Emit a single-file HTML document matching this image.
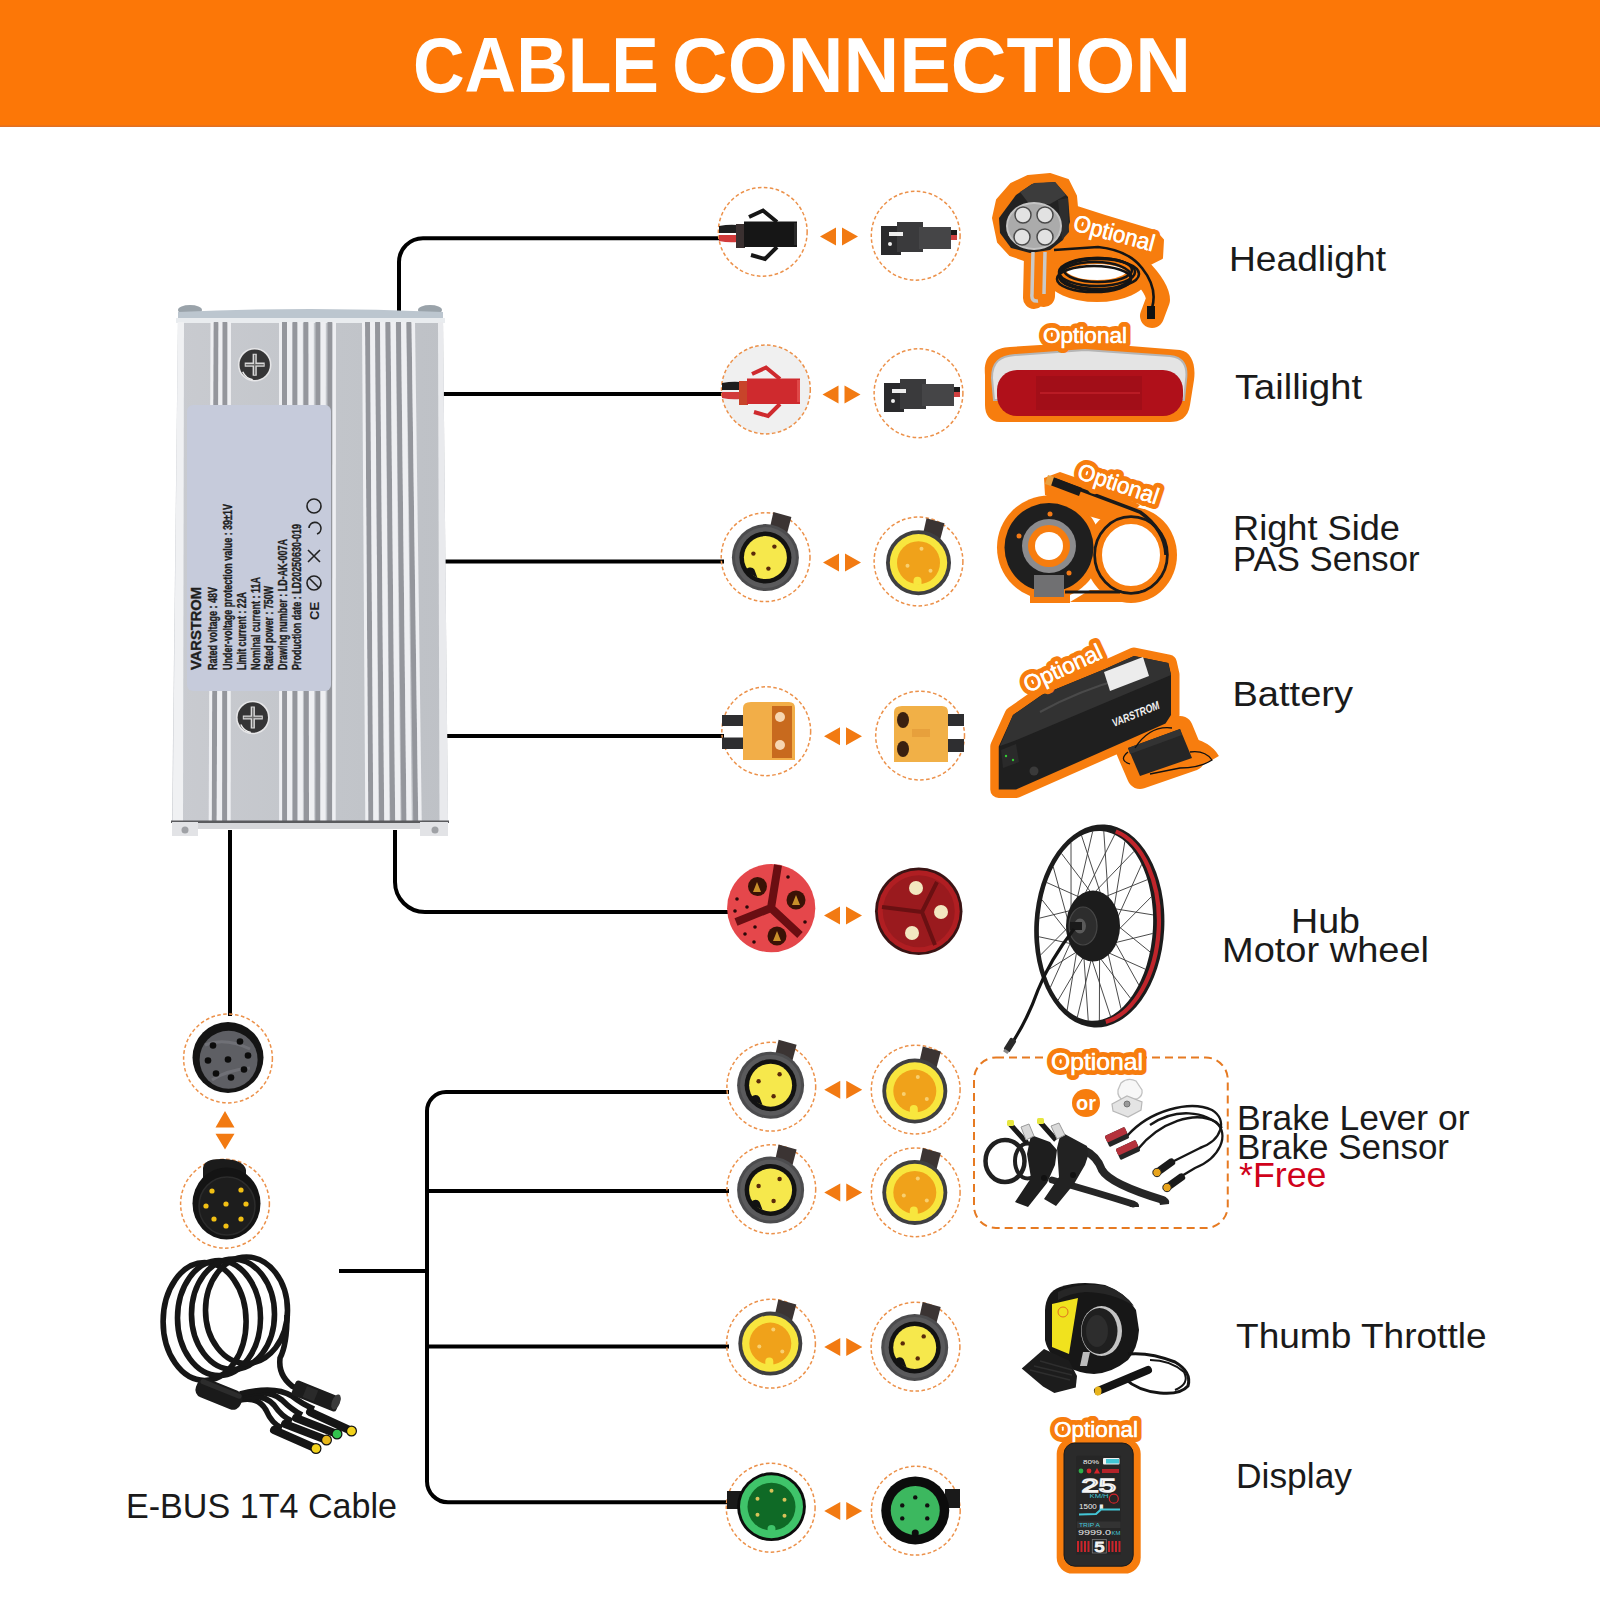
<!DOCTYPE html>
<html><head><meta charset="utf-8"><title>Cable Connection</title>
<style>
html,body{margin:0;padding:0;background:#fff;}
body{width:1600px;height:1600px;overflow:hidden;position:relative;font-family:"Liberation Sans",sans-serif;}
svg{position:absolute;left:0;top:0;display:block;}
text{font-family:"Liberation Sans",sans-serif;}
</style></head><body>
<svg width="1600" height="1600" viewBox="0 0 1600 1600">
<rect x="0" y="0" width="1600" height="127" fill="#FC7707"/><rect x="0" y="125.5" width="1600" height="1.5" fill="#e07024"/>
<text x="413" y="91.5" font-size="77.5" font-weight="bold" fill="#fff" textLength="246" lengthAdjust="spacingAndGlyphs">CABLE</text>
<text x="672" y="91.5" font-size="77.5" font-weight="bold" fill="#fff" textLength="519" lengthAdjust="spacingAndGlyphs">CONNECTION</text>
<g fill="none" stroke="#000" stroke-width="4"><path d="M399,330 V262 A24,24 0 0,1 423,238.2 H722"/><path d="M440,394 H724"/><path d="M445,561.5 H724"/><path d="M445,736 H724"/><path d="M395,830 V882 A30,30 0 0,0 425,912 H730"/><path d="M230,830 V1016"/><path d="M339,1271 H427"/><path d="M729,1092 H446 A19,19 0 0,0 427,1111 V1481 A21,21 0 0,0 448,1502.2 H729"/><path d="M427,1191 H729"/><path d="M427,1346.5 H729"/></g>
<defs>
<linearGradient id="alu" x1="0" y1="0" x2="1" y2="0">
<stop offset="0" stop-color="#c9cbd0"/><stop offset="0.5" stop-color="#c3c6cb"/><stop offset="1" stop-color="#bec1c6"/>
</linearGradient>
<radialGradient id="screw" cx="0.45" cy="0.4" r="0.6">
<stop offset="0" stop-color="#e8e8e8"/><stop offset="0.6" stop-color="#a8a8a8"/><stop offset="1" stop-color="#5a5a5a"/>
</radialGradient>
</defs>
<ellipse cx="190" cy="310" rx="12" ry="5" fill="#9aa3aa"/><ellipse cx="430" cy="310" rx="12" ry="5" fill="#9aa3aa"/>
<path d="M178,316 L443,316 L448,822 L172,822 Z" fill="url(#alu)"/>
<path d="M178,312 Q310,306 443,312 L443,322 L178,322 Z" fill="#bcc6cf"/>
<path d="M176,318 L445,318 L445,323 L176,323 Z" fill="#e9ecef"/>
<path d="M213.5,322 L218.5,322 L216.7,822 L211.7,822 Z" fill="#94969c"/><path d="M218.5,322 L223.8,322 L222.0,822 L216.7,822 Z" fill="#eeeff2"/><path d="M222.5,322 L227.5,322 L227.2,822 L222.2,822 Z" fill="#94969c"/><path d="M227.5,322 L231.0,322 L230.7,822 L227.2,822 Z" fill="#eeeff2"/><path d="M282.0,322 L287.0,322 L287.1,822 L282.1,822 Z" fill="#94969c"/><path d="M287.0,322 L292.3,322 L292.40000000000003,822 L287.1,822 Z" fill="#eeeff2"/><path d="M292.5,322 L297.5,322 L297.6,822 L292.6,822 Z" fill="#94969c"/><path d="M297.5,322 L302.8,322 L302.90000000000003,822 L297.6,822 Z" fill="#eeeff2"/><path d="M303.5,322 L308.5,322 L309.0,822 L304.0,822 Z" fill="#94969c"/><path d="M308.5,322 L313.8,322 L314.3,822 L309.0,822 Z" fill="#eeeff2"/><path d="M315.5,322 L320.5,322 L320.4,822 L315.4,822 Z" fill="#94969c"/><path d="M320.5,322 L325.8,322 L325.7,822 L320.4,822 Z" fill="#eeeff2"/><path d="M327.5,322 L332.5,322 L332.2,822 L327.2,822 Z" fill="#94969c"/><path d="M332.5,322 L336.0,322 L335.7,822 L332.2,822 Z" fill="#eeeff2"/><path d="M365.0,322 L370.0,322 L373.3,822 L368.3,822 Z" fill="#94969c"/><path d="M370.0,322 L375.3,322 L378.6,822 L373.3,822 Z" fill="#eeeff2"/><path d="M375.0,322 L380.0,322 L384.25,822 L379.25,822 Z" fill="#94969c"/><path d="M380.0,322 L385.3,322 L389.55,822 L384.25,822 Z" fill="#eeeff2"/><path d="M385.5,322 L390.5,322 L395.2,822 L390.2,822 Z" fill="#94969c"/><path d="M390.5,322 L395.8,322 L400.5,822 L395.2,822 Z" fill="#eeeff2"/><path d="M396.0,322 L401.0,322 L406.5,822 L401.5,822 Z" fill="#94969c"/><path d="M401.0,322 L406.3,322 L411.8,822 L406.5,822 Z" fill="#eeeff2"/><path d="M406.5,322 L411.5,322 L418.25,822 L413.25,822 Z" fill="#94969c"/><path d="M411.5,322 L415.0,322 L421.75,822 L418.25,822 Z" fill="#eeeff2"/><path d="M210.5,322 L213.5,322 L211.7,822 L208.7,822 Z" fill="#eeeff2"/><path d="M279.0,322 L282.0,322 L282.1,822 L279.1,822 Z" fill="#eeeff2"/><path d="M362.0,322 L365.0,322 L368.3,822 L365.3,822 Z" fill="#eeeff2"/>
<path d="M178,322 L184,322 L183,822 L172.6,822 Z" fill="#f0f1f3"/>
<path d="M438,322 L443,322 L448,822 L439.5,822 Z" fill="#e9eaed"/>
<rect x="171" y="820.5" width="278" height="2.5" fill="#5a5b5e"/>
<rect x="172" y="823" width="276" height="6" fill="#d6d7da"/>
<path d="M172,822 h26 v14 h-26 z" fill="#e2e3e6"/><path d="M420,822 h28 v14 h-28 z" fill="#e2e3e6"/>
<circle cx="185" cy="830" r="3.5" fill="#9fa1a5"/><circle cx="435" cy="830" r="3.5" fill="#9fa1a5"/>
<rect x="187" y="405" width="144" height="286" rx="6" fill="#c6cbdb"/>
<text transform="translate(200.8,670) rotate(-90)" font-size="14.3" font-weight="bold" fill="#1e1e1e" stroke="#1e1e1e" stroke-width="0.35" textLength="83" lengthAdjust="spacingAndGlyphs">VARSTROM</text>
<text transform="translate(217.3,670) rotate(-90)" font-size="12.3" font-weight="bold" fill="#1e1e1e" stroke="#1e1e1e" stroke-width="0.35" textLength="83" lengthAdjust="spacingAndGlyphs">Rated voltage : 48V</text>
<text transform="translate(231.8,670) rotate(-90)" font-size="12.3" font-weight="bold" fill="#1e1e1e" stroke="#1e1e1e" stroke-width="0.35" textLength="166" lengthAdjust="spacingAndGlyphs">Under-voltage protection value : 39±1V</text>
<text transform="translate(245.8,670) rotate(-90)" font-size="12.3" font-weight="bold" fill="#1e1e1e" stroke="#1e1e1e" stroke-width="0.35" textLength="78" lengthAdjust="spacingAndGlyphs">Limit current : 22A</text>
<text transform="translate(259.6,670) rotate(-90)" font-size="12.3" font-weight="bold" fill="#1e1e1e" stroke="#1e1e1e" stroke-width="0.35" textLength="93" lengthAdjust="spacingAndGlyphs">Nominal current : 11A</text>
<text transform="translate(273.3,670) rotate(-90)" font-size="12.3" font-weight="bold" fill="#1e1e1e" stroke="#1e1e1e" stroke-width="0.35" textLength="84" lengthAdjust="spacingAndGlyphs">Rated power : 750W</text>
<text transform="translate(287.3,670) rotate(-90)" font-size="12.3" font-weight="bold" fill="#1e1e1e" stroke="#1e1e1e" stroke-width="0.35" textLength="131" lengthAdjust="spacingAndGlyphs">Drawing number : LD-AK-007A</text>
<text transform="translate(301.3,670) rotate(-90)" font-size="12.3" font-weight="bold" fill="#1e1e1e" stroke="#1e1e1e" stroke-width="0.35" textLength="146" lengthAdjust="spacingAndGlyphs">Production date : LD20250630-019</text>
<g fill="none" stroke="#222" stroke-width="1.6"><circle cx="314" cy="506" r="7"/><circle cx="314" cy="583" r="7"/><path d="M309,578 L319,588"/><path d="M308,550 L320,562 M320,550 L308,562"/><path d="M309,528 a6,6 0 1,1 8,6"/></g>
<text transform="translate(319,620) rotate(-90)" font-size="13" font-weight="bold" fill="#222">CE</text>
<circle cx="254.7" cy="364.7" r="16.8" fill="#e6e6e8"/><circle cx="254.7" cy="364.7" r="15.2" fill="#353536"/><path d="M244.7,364.7 h20 M254.7,353.7 v22" stroke="#d8d8d8" stroke-width="4.2"/><path d="M245.7,364.7 h18 M254.7,354.7 v20" stroke="#6a6a6a" stroke-width="1.4"/><path d="M242.7,371.7 a14,14 0 0,0 10,8" stroke="#f0f0f0" stroke-width="1.5" fill="none"/>
<circle cx="252.8" cy="717.5" r="16.8" fill="#e6e6e8"/><circle cx="252.8" cy="717.5" r="15.2" fill="#353536"/><path d="M242.8,717.5 h20 M252.8,706.5 v22" stroke="#d8d8d8" stroke-width="4.2"/><path d="M243.8,717.5 h18 M252.8,707.5 v20" stroke="#6a6a6a" stroke-width="1.4"/><path d="M240.8,724.5 a14,14 0 0,0 10,8" stroke="#f0f0f0" stroke-width="1.5" fill="none"/>
<circle cx="762.75" cy="231.8" r="44.4" fill="none" stroke="#EC914A" stroke-width="1.5" stroke-dasharray="3.6 2.4"/>
<circle cx="915.7" cy="235.75" r="44.4" fill="none" stroke="#EC914A" stroke-width="1.5" stroke-dasharray="3.6 2.4"/>
<path d="M719,226 q10,-2 19,-1 v8 h-19 z" fill="#1e1e1e"/><path d="M719,235 h19 v7 q-10,1 -19,-1 z" fill="#d23a3a"/><path d="M736,224 h9 v24 h-9 z" fill="#3a3030"/><path d="M744,221.5 h53 v25.5 h-53 z" fill="#161616"/><path d="M794,223 h3 v22 h-3 z" fill="#2a2a2a"/><path d="M749,217 L763,210.5 L777,222 M751,255 L765,259 L777,247" fill="none" stroke="#161616" stroke-width="4" stroke-linejoin="miter"/>
<path d="M943,230 h14 v5 h-14 z" fill="#1a1a1a"/><path d="M943,235 h14 v5 h-14 z" fill="#d04040"/><path d="M881,226 h20 v29 h-20 z" fill="#2a2a2c"/><path d="M897,222 h26 v30 h-26 z" fill="#3a3a3c"/><path d="M919,227 h32 v22 h-32 z" fill="#454547"/><path d="M889,232 h14 v4 h-14 z" fill="#eee"/><circle cx="890" cy="244" r="2" fill="#eee"/>
<path d="M820,236.5 L836,227.5 L836,245.5 Z M842,227.5 L858,236.5 L842,245.5 Z" fill="#F27A12"/>
<circle cx="765.9" cy="389.5" r="44.4" fill="#f0f0f0" stroke="#EC914A" stroke-width="1.5" stroke-dasharray="3.6 2.4"/>
<circle cx="918.5" cy="393.25" r="44.4" fill="none" stroke="#EC914A" stroke-width="1.5" stroke-dasharray="3.6 2.4"/>
<path d="M722,383 q10,-2 19,-1 v8 h-19 z" fill="#1e1e1e"/><path d="M722,392 h19 v7 q-10,1 -19,-1 z" fill="#d23a3a"/><path d="M739,381 h9 v24 h-9 z" fill="#c8442a"/><path d="M747,378.5 h53 v25.5 h-53 z" fill="#cf2a2e"/><path d="M797,380 h3 v22 h-3 z" fill="#e04848"/><path d="M752,374 L766,367.5 L780,379 M754,412 L768,416 L780,404" fill="none" stroke="#cf2a2e" stroke-width="4" stroke-linejoin="miter"/>
<path d="M946,387 h14 v5 h-14 z" fill="#1a1a1a"/><path d="M946,392 h14 v5 h-14 z" fill="#d04040"/><path d="M884,383 h20 v29 h-20 z" fill="#2a2a2c"/><path d="M900,379 h26 v30 h-26 z" fill="#3a3a3c"/><path d="M922,384 h32 v22 h-32 z" fill="#454547"/><path d="M892,389 h14 v4 h-14 z" fill="#eee"/><circle cx="893" cy="401" r="2" fill="#eee"/>
<path d="M822.5,394.5 L838.5,385.5 L838.5,403.5 Z M844.5,385.5 L860.5,394.5 L844.5,403.5 Z" fill="#F27A12"/>
<circle cx="765.6" cy="557.2" r="44.4" fill="none" stroke="#EC914A" stroke-width="1.5" stroke-dasharray="3.6 2.4"/>
<circle cx="918.5" cy="561.5" r="44.4" fill="none" stroke="#EC914A" stroke-width="1.5" stroke-dasharray="3.6 2.4"/>
<path d="M769.4,530.1 L773.4,512.1 L791.4,517.1 L786.4,536.1 Z" fill="#3b3433"/>
<circle cx="765.4" cy="557.6" r="33.5" fill="#4c4c4e"/><circle cx="765.4" cy="557.6" r="30.5" fill="#5a5a5c"/><circle cx="765.4" cy="557.6" r="26.0" fill="#121212"/><circle cx="765.4" cy="557.6" r="21.5" fill="#F6E84C"/><circle cx="753.4" cy="553.6" r="2.2" fill="#5a2a0a"/><circle cx="774.4" cy="546.6" r="2.2" fill="#5a2a0a"/><circle cx="768.4" cy="568.6" r="2.2" fill="#5a2a0a"/><path d="M745.4,571.6 a5,5 0 0,1 9,-2 L757.4,577.6 Z" fill="#121212"/>
<path d="M922.5,536.2 L926.5,518.2 L944.5,523.2 L939.5,542.2 Z" fill="#3b3433"/>
<circle cx="918.5" cy="562.7" r="32.5" fill="#3f3f41"/><circle cx="918.5" cy="562.7" r="28.7" fill="#F8E63E"/><circle cx="918.5" cy="562.7" r="21.5" fill="#F0A21A"/><circle cx="921.5" cy="548.7" r="2" fill="#f8d070"/><circle cx="907.5" cy="565.7" r="2" fill="#f8d070"/><circle cx="930.5" cy="570.7" r="2" fill="#f8d070"/><path d="M913.5,584.7 v-4 a4,4 0 0,1 8,0 v4 z" fill="#F8E63E"/>
<path d="M823,562.4 L839,553.4 L839,571.4 Z M845,553.4 L861,562.4 L845,571.4 Z" fill="#F27A12"/>
<circle cx="766.25" cy="731.25" r="44.4" fill="none" stroke="#EC914A" stroke-width="1.5" stroke-dasharray="3.6 2.4"/>
<circle cx="920.1" cy="735.6" r="44.4" fill="none" stroke="#EC914A" stroke-width="1.5" stroke-dasharray="3.6 2.4"/>
<path d="M722,715 h22 v11 h-22 z M722,737.5 h22 v11.5 h-22 z" fill="#2e2e30"/><path d="M743,708 q0,-6 8,-6 h38 q6,0 6,6 v52 h-52 z" fill="#F2AE48"/><path d="M772,706 h20 v52 h-20 z" fill="#C86A1E"/><circle cx="780" cy="717" r="5" fill="#f7d6b0"/><circle cx="780" cy="745" r="5" fill="#f7d6b0"/>
<path d="M946,714 h18 v12 h-18 z M946,739 h18 v13 h-18 z" fill="#2e2e30"/><path d="M894,712 q0,-6 8,-6 h40 q6,0 6,6 v50 h-54 z" fill="#F1B047"/><ellipse cx="903" cy="720" rx="6" ry="8" fill="#3a2010"/><ellipse cx="903" cy="749" rx="6" ry="8" fill="#3a2010"/><path d="M912,729 h18 v8 h-18 z" fill="#e7a03c"/>
<path d="M824,736.2 L840,727.2 L840,745.2 Z M846,727.2 L862,736.2 L846,745.2 Z" fill="#F27A12"/>
<circle cx="771.2" cy="908.2" r="44.1" fill="#E5474B"/><path d="M771,908 L778,865 M771,908 L736,922 M771,908 L800,935" stroke="#6a0e12" stroke-width="8" fill="none"/><circle cx="757.5" cy="886.5" r="9.5" fill="#3a1206"/><circle cx="796" cy="900" r="9.5" fill="#3a1206"/><circle cx="777" cy="936" r="9.5" fill="#3a1206"/><path d="M753,892 l4,-10 l4,10 z M792,905 l4,-10 l4,10 z M773,941 l4,-10 l4,10 z" fill="#c8902a"/><g fill="#2a0808"><circle cx="737" cy="899" r="1.8"/><circle cx="747" cy="907" r="1.8"/><circle cx="735" cy="911" r="1.8"/><circle cx="788" cy="877" r="1.8"/><circle cx="805" cy="922" r="1.8"/><circle cx="755" cy="927" r="1.8"/><circle cx="745" cy="934" r="1.8"/><circle cx="754" cy="942" r="1.8"/></g>
<circle cx="918.75" cy="911.25" r="43.75" fill="#3a1414"/><circle cx="918.75" cy="911.25" r="41" fill="#B01E22"/><circle cx="918.75" cy="911.25" r="36" fill="#9a1a1e"/><path d="M922,912 L937,882 M922,912 L882,907 M922,912 L935,945" stroke="#6a1012" stroke-width="4" fill="none"/><circle cx="916" cy="888" r="7" fill="#f3e7c0"/><circle cx="941" cy="912" r="7" fill="#f3e7c0"/><circle cx="912" cy="933" r="7" fill="#f3e7c0"/>
<path d="M824,915.6 L840,906.6 L840,924.6 Z M846,906.6 L862,915.6 L846,924.6 Z" fill="#F27A12"/>
<circle cx="771.3" cy="1086.7" r="44.4" fill="none" stroke="#EC914A" stroke-width="1.5" stroke-dasharray="3.6 2.4"/>
<circle cx="915.7" cy="1089.6" r="44.4" fill="none" stroke="#EC914A" stroke-width="1.5" stroke-dasharray="3.6 2.4"/>
<path d="M774.6,1057.7 L778.6,1039.7 L796.6,1044.7 L791.6,1063.7 Z" fill="#3b3433"/>
<circle cx="770.6" cy="1085.2" r="33.5" fill="#4c4c4e"/><circle cx="770.6" cy="1085.2" r="30.5" fill="#5a5a5c"/><circle cx="770.6" cy="1085.2" r="26.0" fill="#121212"/><circle cx="770.6" cy="1085.2" r="21.5" fill="#F6E84C"/><circle cx="758.6" cy="1081.2" r="2.2" fill="#5a2a0a"/><circle cx="779.6" cy="1074.2" r="2.2" fill="#5a2a0a"/><circle cx="773.6" cy="1096.2" r="2.2" fill="#5a2a0a"/><path d="M750.6,1099.2 a5,5 0 0,1 9,-2 L762.6,1105.2 Z" fill="#121212"/>
<path d="M918.8,1064.5 L922.8,1046.5 L940.8,1051.5 L935.8,1070.5 Z" fill="#3b3433"/>
<circle cx="914.8" cy="1091" r="32.5" fill="#3f3f41"/><circle cx="914.8" cy="1091" r="28.7" fill="#F8E63E"/><circle cx="914.8" cy="1091" r="21.5" fill="#F0A21A"/><circle cx="917.8" cy="1077" r="2" fill="#f8d070"/><circle cx="903.8" cy="1094" r="2" fill="#f8d070"/><circle cx="926.8" cy="1099" r="2" fill="#f8d070"/><path d="M909.8,1113 v-4 a4,4 0 0,1 8,0 v4 z" fill="#F8E63E"/>
<path d="M824.25,1089.7 L840.25,1080.7 L840.25,1098.7 Z M846.25,1080.7 L862.25,1089.7 L846.25,1098.7 Z" fill="#F27A12"/>
<circle cx="771.3" cy="1189.25" r="44.4" fill="none" stroke="#EC914A" stroke-width="1.5" stroke-dasharray="3.6 2.4"/>
<circle cx="915.7" cy="1192.3" r="44.4" fill="none" stroke="#EC914A" stroke-width="1.5" stroke-dasharray="3.6 2.4"/>
<path d="M774.6,1162.5 L778.6,1144.5 L796.6,1149.5 L791.6,1168.5 Z" fill="#3b3433"/>
<circle cx="770.6" cy="1190" r="33.5" fill="#4c4c4e"/><circle cx="770.6" cy="1190" r="30.5" fill="#5a5a5c"/><circle cx="770.6" cy="1190" r="26.0" fill="#121212"/><circle cx="770.6" cy="1190" r="21.5" fill="#F6E84C"/><circle cx="758.6" cy="1186" r="2.2" fill="#5a2a0a"/><circle cx="779.6" cy="1179" r="2.2" fill="#5a2a0a"/><circle cx="773.6" cy="1201" r="2.2" fill="#5a2a0a"/><path d="M750.6,1204 a5,5 0 0,1 9,-2 L762.6,1210 Z" fill="#121212"/>
<path d="M918.8,1165.9 L922.8,1147.9 L940.8,1152.9 L935.8,1171.9 Z" fill="#3b3433"/>
<circle cx="914.8" cy="1192.4" r="32.5" fill="#3f3f41"/><circle cx="914.8" cy="1192.4" r="28.7" fill="#F8E63E"/><circle cx="914.8" cy="1192.4" r="21.5" fill="#F0A21A"/><circle cx="917.8" cy="1178.4" r="2" fill="#f8d070"/><circle cx="903.8" cy="1195.4" r="2" fill="#f8d070"/><circle cx="926.8" cy="1200.4" r="2" fill="#f8d070"/><path d="M909.8,1214.4 v-4 a4,4 0 0,1 8,0 v4 z" fill="#F8E63E"/>
<path d="M824.25,1192.6 L840.25,1183.6 L840.25,1201.6 Z M846.25,1183.6 L862.25,1192.6 L846.25,1201.6 Z" fill="#F27A12"/>
<circle cx="771" cy="1343.7" r="44.4" fill="none" stroke="#EC914A" stroke-width="1.5" stroke-dasharray="3.6 2.4"/>
<circle cx="915.5" cy="1346.7" r="44.4" fill="none" stroke="#EC914A" stroke-width="1.5" stroke-dasharray="3.6 2.4"/>
<path d="M774.3,1317.6 L778.3,1299.6 L796.3,1304.6 L791.3,1323.6 Z" fill="#3b3433"/>
<circle cx="770.3" cy="1343.6" r="32" fill="#3f3f41"/><circle cx="770.3" cy="1343.6" r="28.2" fill="#F8E63E"/><circle cx="770.3" cy="1343.6" r="21" fill="#F0A21A"/><circle cx="773.3" cy="1329.6" r="2" fill="#f8d070"/><circle cx="759.3" cy="1346.6" r="2" fill="#f8d070"/><circle cx="782.3" cy="1351.6" r="2" fill="#f8d070"/><path d="M765.3,1365.6 v-4 a4,4 0 0,1 8,0 v4 z" fill="#F8E63E"/>
<path d="M918.7,1319.9 L922.7,1301.9 L940.7,1306.9 L935.7,1325.9 Z" fill="#3b3433"/>
<circle cx="914.7" cy="1347.4" r="33.5" fill="#4c4c4e"/><circle cx="914.7" cy="1347.4" r="30.5" fill="#5a5a5c"/><circle cx="914.7" cy="1347.4" r="26.0" fill="#121212"/><circle cx="914.7" cy="1347.4" r="21.5" fill="#F6E84C"/><circle cx="902.7" cy="1343.4" r="2.2" fill="#5a2a0a"/><circle cx="923.7" cy="1336.4" r="2.2" fill="#5a2a0a"/><circle cx="917.7" cy="1358.4" r="2.2" fill="#5a2a0a"/><path d="M894.7,1361.4 a5,5 0 0,1 9,-2 L906.7,1367.4 Z" fill="#121212"/>
<path d="M824.25,1347.1 L840.25,1338.1 L840.25,1356.1 Z M846.25,1338.1 L862.25,1347.1 L846.25,1356.1 Z" fill="#F27A12"/>
<circle cx="770.7" cy="1507.75" r="44.4" fill="none" stroke="#EC914A" stroke-width="1.5" stroke-dasharray="3.6 2.4"/>
<circle cx="915.8" cy="1510.7" r="44.4" fill="none" stroke="#EC914A" stroke-width="1.5" stroke-dasharray="3.6 2.4"/>
<path d="M727,1491 h14 v18 h-14 z" fill="#1a1a1a"/><circle cx="771.5" cy="1506.7" r="34.4" fill="#0c0c0c"/><circle cx="771.5" cy="1506.7" r="31.5" fill="#3FC46A"/><circle cx="771.5" cy="1506.7" r="24" fill="#0F6A26"/><circle cx="771.5" cy="1529" r="4" fill="#3FC46A"/>
<circle cx="771.5" cy="1490.7" r="2" fill="#d9c25a"/>
<circle cx="757.5" cy="1498.7" r="2" fill="#d9c25a"/>
<circle cx="784.5" cy="1499.7" r="2" fill="#d9c25a"/>
<circle cx="757.5" cy="1514.7" r="2" fill="#d9c25a"/>
<circle cx="784.5" cy="1515.7" r="2" fill="#d9c25a"/>
<path d="M945,1489 h15 v19 h-15 z" fill="#1a1a1a"/><circle cx="915.25" cy="1510.4" r="34" fill="#0c0c0c"/><circle cx="915.25" cy="1510.4" r="24.5" fill="#3CB85F"/><circle cx="915.25" cy="1533" r="3.5" fill="#0c0c0c"/>
<circle cx="915.25" cy="1497.4" r="2.2" fill="#101010"/>
<circle cx="902.25" cy="1505.4" r="2.2" fill="#101010"/>
<circle cx="927.25" cy="1505.4" r="2.2" fill="#101010"/>
<circle cx="902.25" cy="1518.4" r="2.2" fill="#101010"/>
<circle cx="927.25" cy="1518.4" r="2.2" fill="#101010"/>
<path d="M824.25,1511 L840.25,1502 L840.25,1520 Z M846.25,1502 L862.25,1511 L846.25,1520 Z" fill="#F27A12"/>
<circle cx="228" cy="1058.5" r="44.4" fill="none" stroke="#EC914A" stroke-width="1.5" stroke-dasharray="3.6 2.4"/>
<circle cx="225" cy="1203.75" r="44.4" fill="none" stroke="#EC914A" stroke-width="1.5" stroke-dasharray="3.6 2.4"/>
<circle cx="228" cy="1057.5" r="35.5" fill="#141414"/><circle cx="228.6" cy="1059.7" r="29" fill="#5e5f64"/><path d="M205,1045 q20,-8 45,4 M212,1080 q15,-10 38,-12" stroke="#7c7c82" stroke-width="3" fill="none" opacity="0.6"/>
<circle cx="213" cy="1045.5" r="3.3" fill="#0c0c0c"/>
<circle cx="240" cy="1041.5" r="3.3" fill="#0c0c0c"/>
<circle cx="248" cy="1055.5" r="3.3" fill="#0c0c0c"/>
<circle cx="208" cy="1060.5" r="3.3" fill="#0c0c0c"/>
<circle cx="228" cy="1059.5" r="3.3" fill="#0c0c0c"/>
<circle cx="244" cy="1069.5" r="3.3" fill="#0c0c0c"/>
<circle cx="216" cy="1073.5" r="3.3" fill="#0c0c0c"/>
<circle cx="231" cy="1077.5" r="3.3" fill="#0c0c0c"/>
<path d="M215.5,1127.5 L225,1111 L234.5,1127.5 Z M215.5,1133.75 L234.5,1133.75 L225,1149.5 Z" fill="#F27A12"/>
<path d="M203,1168 Q204,1158 224,1159 Q244,1160 246,1170 L246,1180 L203,1180 Z" fill="#1b1b1b"/><ellipse cx="226.5" cy="1203.5" rx="34" ry="36" fill="#141414"/><ellipse cx="227" cy="1206" rx="28" ry="29" fill="#1d1d1d" stroke="#2c2c2c" stroke-width="1.5"/>
<circle cx="212" cy="1191" r="2.6" fill="#F2C014"/>
<circle cx="241" cy="1190" r="2.6" fill="#F2C014"/>
<circle cx="206" cy="1206" r="2.6" fill="#F2C014"/>
<circle cx="226" cy="1204" r="2.6" fill="#F2C014"/>
<circle cx="246" cy="1204" r="2.6" fill="#F2C014"/>
<circle cx="214" cy="1219" r="2.6" fill="#F2C014"/>
<circle cx="241" cy="1219" r="2.6" fill="#F2C014"/>
<circle cx="226" cy="1226" r="2.6" fill="#F2C014"/>
<g fill="none" stroke="#161616" stroke-width="5.6"><ellipse cx="204.6" cy="1321.5" rx="41.5" ry="59.0"/><ellipse cx="219" cy="1318.0" rx="41.5" ry="57.5"/><ellipse cx="233" cy="1314.25" rx="41.5" ry="55.25"/><ellipse cx="246.5" cy="1310.25" rx="41" ry="53.25"/><path d="M287,1315 Q287,1345 280,1358 Q278,1375 292,1386 L300,1390"/><path d="M240,1400 Q258,1396 266,1410 Q272,1424 282,1428"/><path d="M240,1398 Q262,1392 274,1405 Q282,1417 292,1421"/><path d="M240,1396 Q268,1388 282,1400 Q292,1410 302,1415"/><path d="M240,1394 Q274,1385 292,1396 Q302,1404 314,1409"/></g>
<g transform="translate(219,1394) rotate(22)"><rect x="-24" y="-10" width="48" height="20" rx="8" fill="#1a1a1a"/><rect x="-22" y="-8" width="44" height="5" rx="2.5" fill="#2c2c2c"/></g><g transform="translate(316,1396) rotate(22)"><rect x="-24" y="-8" width="48" height="16" rx="3" fill="#1c1c1c"/><rect x="-12" y="-6" width="12" height="12" fill="#2a2a2a"/></g><ellipse cx="336" cy="1402" rx="4" ry="8" transform="rotate(22 336 1402)" fill="#3a3a3a"/>
<path d="M274,1430 L316,1448.5" stroke="#151515" stroke-width="8" stroke-linecap="round"/><circle cx="316" cy="1448.5" r="5.5" fill="#111"/><circle cx="316" cy="1448.5" r="4.3" fill="#F2D21C"/>
<path d="M285,1424 L326.5,1440" stroke="#151515" stroke-width="8" stroke-linecap="round"/><circle cx="326.5" cy="1440" r="5.5" fill="#111"/><circle cx="326.5" cy="1440" r="4.3" fill="#E8B81A"/>
<path d="M296,1418 L337,1434" stroke="#151515" stroke-width="8" stroke-linecap="round"/><circle cx="337" cy="1434" r="5.5" fill="#111"/><circle cx="337" cy="1434" r="4.3" fill="#32C24E"/>
<path d="M310,1412 L351.5,1431" stroke="#151515" stroke-width="8" stroke-linecap="round"/><circle cx="351.5" cy="1431" r="5.5" fill="#111"/><circle cx="351.5" cy="1431" r="4.3" fill="#F2D21C"/>
<g fill="#F77D0E" stroke="#F77D0E" stroke-linejoin="round" stroke-linecap="round"><path d="M993,218 L997,200 L1011,184 L1028,176 L1050,174 L1068,180 L1076,196 L1077,207 L1105,216 L1155,231 L1163,240 L1162,258 L1150,264 L1100,250 L1070,250 L1060,258 L1030,262 L1010,255 L998,242 Z" stroke-width="2"/><path d="M1035,255 L1034,298 M1045,255 L1044,296" stroke-width="22" fill="none"/><ellipse cx="1097" cy="272" rx="42" ry="19" stroke-width="22" fill="none"/><path d="M1058,252 L1100,248 Q1125,250 1138,268 Q1158,288 1158,300 L1152,316" stroke-width="24" fill="none"/></g>
<ellipse cx="1097" cy="272" rx="26" ry="6" fill="#fff"/>
<path d="M999,218 L1016,195 L1032,184 L1055,182 L1068,197 L1070,222 L1063,240 L1050,250 L1030,253 L1011,248 L1000,233 Z" fill="#222"/><path d="M1020,192 L1034,183 L1055,182 L1066,195 L1050,204 L1030,205 Z" fill="#3c3c3c"/><path d="M1058,200 L1068,198 L1069,232 L1062,240 Z" fill="#2e2e2e"/><ellipse cx="1034" cy="226" rx="28" ry="24" fill="#c4c4c4"/><ellipse cx="1034" cy="226" rx="26" ry="22" fill="#ababab"/><g fill="#e2e2e2" stroke="#4a4a4a" stroke-width="1.5"><circle cx="1023" cy="215" r="8"/><circle cx="1045" cy="215" r="8"/><circle cx="1022" cy="237" r="8"/><circle cx="1045" cy="237" r="8"/></g><path d="M1033,252 L1032,294 Q1031,302 1038,301 M1045,252 L1044,294" stroke="#c9c9c9" stroke-width="3.5" fill="none"/>
<g fill="none" stroke="#151515" stroke-width="2.6"><ellipse cx="1097" cy="272" rx="38" ry="14"/><ellipse cx="1095" cy="276" rx="36" ry="14"/><ellipse cx="1098" cy="270" rx="34" ry="12"/><ellipse cx="1094" cy="279" rx="37" ry="13"/><ellipse cx="1099" cy="274" rx="40" ry="15"/><path d="M1054,250 L1098,247 Q1128,250 1142,268 Q1158,288 1152,308"/></g><rect x="1147" y="306" width="8" height="13" fill="#111"/>
<g transform="translate(1072,230) rotate(15)"><text x="0" y="0" font-size="23.5" fill="#fff" stroke="#F77D0E" stroke-width="10" stroke-linejoin="round" paint-order="stroke" textLength="83" lengthAdjust="spacingAndGlyphs">Optional</text><text x="0" y="0" font-size="23.5" fill="#fff" stroke="#fff" stroke-width="0.35" textLength="83" lengthAdjust="spacingAndGlyphs">Optional</text><rect x="7.79" y="-10.54" width="1.8" height="4.4" rx="0.9" fill="#fff"/></g>
<path d="M985,375 C983,355 995,348 1010,347 L1040,345 L1130,346 L1180,350 C1192,352 1196,365 1194,380 L1190,405 C1188,418 1180,422 1170,422 L1000,422 C990,422 985,415 985,405 Z" fill="#F77D0E"/>
<path d="M992,378 C992,362 1000,356 1015,355 L1085,350 L1170,356 C1183,357 1188,366 1186,380 L1184,400 L994,400 Z" fill="#e4e4e4" stroke="#b5b5b5" stroke-width="2"/><rect x="997" y="370" width="186" height="46" rx="20" fill="#B0101A"/><rect x="1036" y="376" width="106" height="34" fill="#A20E18"/><path d="M1040,393 H1140" stroke="#c0202a" stroke-width="1.5"/>
<g transform="translate(1043,342.6) rotate(0)"><text x="0" y="0" font-size="22.5" fill="#fff" stroke="#F77D0E" stroke-width="10" stroke-linejoin="round" paint-order="stroke" textLength="84" lengthAdjust="spacingAndGlyphs">Optional</text><text x="0" y="0" font-size="22.5" fill="#fff" stroke="#fff" stroke-width="0.35" textLength="84" lengthAdjust="spacingAndGlyphs">Optional</text><rect x="7.90" y="-10.19" width="1.8" height="4.4" rx="0.9" fill="#fff"/></g>
<g fill="#F77D0E"><circle cx="1049" cy="547.5" r="52"/><ellipse cx="1131" cy="555" rx="46" ry="48"/><path d="M1044,478 L1060,472 L1100,486 L1140,505 L1120,525 L1085,515 L1045,495 Z"/><path d="M1030,575 h40 v28 h-40 z"/><path d="M1090,590 L1140,590 L1130,602 L1070,602 Z"/></g>
<circle cx="1049" cy="547.5" r="44.5" fill="#1f1f1f"/><circle cx="1049" cy="546" r="27" fill="#8b8b8d"/><circle cx="1049" cy="546" r="21" fill="#F77D0E"/><circle cx="1049" cy="546" r="14" fill="#fff"/><path d="M1034,575 h30 v22 h-30 z" fill="#707072"/><circle cx="1050" cy="514" r="2.5" fill="#F47A15"/><circle cx="1019" cy="536" r="2.5" fill="#F47A15"/><circle cx="1069" cy="573" r="2.5" fill="#F47A15"/>
<ellipse cx="1131" cy="555" rx="36" ry="38" fill="#fff" stroke="#1a1a1a" stroke-width="3.5"/><ellipse cx="1131" cy="555" rx="32" ry="34" fill="none" stroke="#F77D0E" stroke-width="6"/><path d="M1055,480 L1140,512 Q1165,530 1166,555" stroke="#1a1a1a" stroke-width="3.5" fill="none"/><path d="M1053,477 L1082,488 L1079,496 L1050,485 Z" fill="#1a1a1a"/><path d="M1048,475 L1054,477 L1051,486 L1045,484 Z" fill="#E9A040"/><path d="M1065,592 L1120,592" stroke="#1a1a1a" stroke-width="3"/>
<g transform="translate(1076,478) rotate(18.5)"><text x="0" y="0" font-size="23" fill="#fff" stroke="#F77D0E" stroke-width="10" stroke-linejoin="round" paint-order="stroke" textLength="84" lengthAdjust="spacingAndGlyphs">Optional</text><text x="0" y="0" font-size="23" fill="#fff" stroke="#fff" stroke-width="0.35" textLength="84" lengthAdjust="spacingAndGlyphs">Optional</text><rect x="7.90" y="-10.36" width="1.8" height="4.4" rx="0.9" fill="#fff"/></g>
<g fill="#F77D0E" stroke="#F77D0E" stroke-linejoin="round"><path d="M998.75,789.6 L998.75,746.5 L1013,715 L1042,694.75 L1105,669 L1134,656 L1168.4,663 L1171,674.6 L1171,715 L1165.5,723.5 L1016,789.6 Z" stroke-width="17"/><path d="M1128,748 L1180,729 L1192,758 L1140,776 Z" stroke-width="26"/><path d="M1185,745 Q1205,748 1212,760" stroke-width="16" fill="none"/></g>
<path d="M998.75,789.6 L998.75,746.5 L1013,715 L1042,694.75 L1105,669 L1134,656 L1168.4,663 L1171,674.6 L1171,715 L1165.5,723.5 L1016,789.6 Z" fill="#1f1f1f"/><path d="M1000,746 L1013,715 L1042,695 L1105,669 L1134,656 L1168,663 L1171,675 L1014,741 Z" fill="#323232"/><path d="M1040,712 Q1080,690 1125,678" stroke="#4a4a4a" stroke-width="2" fill="none"/><path d="M1104,672 L1143,657 L1149,676 L1110,691 Z" fill="#ececec"/><path d="M1001,750 L1016,744 L1019,762 L1003,768 Z" fill="#2a2a2a"/><circle cx="1006" cy="756" r="1.2" fill="#3c3"/><circle cx="1013" cy="760" r="1.2" fill="#3c3"/><circle cx="1034" cy="771" r="4.5" fill="#3a3a3a"/><text transform="translate(1114,727) rotate(-22)" font-size="11.5" font-weight="bold" font-style="italic" fill="#f0f0f0" textLength="50" lengthAdjust="spacingAndGlyphs">VARSTROM</text>
<path d="M1128,748 L1180,729 L1192,758 L1140,776 Z" fill="#262626"/><path d="M1128,748 L1180,729 L1182,735 L1130,754 Z" fill="#333"/><path d="M1128,752 Q1118,760 1130,764 M1135,748 Q1150,725 1172,728 M1190,752 Q1205,750 1212,760 Q1200,768 1180,768 L1150,774" stroke="#111" stroke-width="1.3" fill="none"/>
<g transform="translate(1028,693) rotate(-25)"><text x="0" y="0" font-size="23" fill="#fff" stroke="#F77D0E" stroke-width="10" stroke-linejoin="round" paint-order="stroke" textLength="84" lengthAdjust="spacingAndGlyphs">Optional</text><text x="0" y="0" font-size="23" fill="#fff" stroke="#fff" stroke-width="0.35" textLength="84" lengthAdjust="spacingAndGlyphs">Optional</text><rect x="7.90" y="-10.36" width="1.8" height="4.4" rx="0.9" fill="#fff"/></g>
<g transform="rotate(3 1099 926)">
<path d="M1112.5,942.9 L1152.9,930.7 M1107.1,917.0 L1151.3,949.2 M1106.9,951.1 L1147.5,966.7 M1107.9,928.7 L1141.8,982.7 M1099.7,955.5 L1134.2,996.4 M1105.7,939.9 L1125.3,1007.5 M1091.9,955.4 L1115.2,1015.5 M1100.8,949.0 L1104.3,1020.0 M1084.7,950.8 L1093.2,1020.9 M1094.0,954.6 L1082.1,1018.1 M1079.2,942.4 L1071.6,1011.8 M1086.2,955.9 L1062.0,1002.3 M1076.3,931.5 L1053.7,989.7 M1078.7,952.6 L1047.1,974.8 M1076.4,919.8 L1042.3,957.9 M1072.7,945.2 L1039.6,939.9 M1079.5,909.1 L1039.1,921.3 M1068.9,935.0 L1040.7,902.8 M1085.1,900.9 L1044.5,885.3 M1068.1,923.3 L1050.2,869.3 M1092.3,896.5 L1057.8,855.6 M1070.3,912.1 L1066.7,844.5 M1100.1,896.6 L1076.8,836.5 M1075.2,903.0 L1087.7,832.0 M1107.3,901.2 L1098.8,831.1 M1082.0,897.4 L1109.9,833.9 M1112.8,909.6 L1120.4,840.2 M1089.8,896.1 L1130.0,849.7 M1115.7,920.5 L1138.3,862.3 M1097.3,899.4 L1144.9,877.2 M1115.6,932.2 L1149.7,894.1 M1103.3,906.8 L1152.4,912.1" stroke="#3c3c3c" stroke-width="0.9" fill="none"/>
<path d="M1034.3,926 a65,101.5 0 1,0 130,0 a65,101.5 0 1,0 -130,0 Z M1039,926 a57,95 0 1,0 114,0 a57,95 0 1,0 -114,0 Z " fill="#1c1c1c" fill-rule="evenodd"/><path d="M1110.8,830.6 A60.5,97.5 0 0,1 1110.8,1021.4" stroke="#C0252B" stroke-width="4.2" fill="none"/></g>
<ellipse cx="1093" cy="926" rx="27" ry="35.5" fill="#1c1c1c"/><ellipse cx="1083" cy="926" rx="14" ry="19" fill="#2d2d2d" stroke="#474747" stroke-width="1.2"/><ellipse cx="1080" cy="926" rx="6" ry="7.5" fill="#5a5a5a"/><path d="M1070,922 L1082,922 L1082,930 L1070,930 Z" fill="#1a1a1a"/><path d="M1074,929 Q1050,960 1038,990 Q1028,1018 1014,1040" stroke="#141414" stroke-width="3.2" fill="none"/><g transform="translate(1010,1045) rotate(-58)"><rect x="-7" y="-3.5" width="14" height="7" rx="1.5" fill="#2a2a2a"/><rect x="-9" y="-2.5" width="3" height="5" fill="#888"/></g>
<rect x="974" y="1057.5" width="253.75" height="170.5" rx="22" fill="none" stroke="#E67A22" stroke-width="2" stroke-dasharray="8 5"/>
<g transform="translate(1051,1070) rotate(0)"><text x="0" y="0" font-size="24" fill="#fff" stroke="#F77D0E" stroke-width="10" stroke-linejoin="round" paint-order="stroke" textLength="92" lengthAdjust="spacingAndGlyphs">Optional</text><text x="0" y="0" font-size="24" fill="#fff" stroke="#fff" stroke-width="0.35" textLength="92" lengthAdjust="spacingAndGlyphs">Optional</text><rect x="8.73" y="-10.72" width="1.8" height="4.4" rx="0.9" fill="#fff"/></g>
<circle cx="1086" cy="1103" r="14" fill="#F77D0E"/><text x="1086" y="1110" font-size="20" font-weight="bold" fill="#fff" text-anchor="middle">or</text>
<path d="M1121,1083 Q1128,1077 1136,1081 L1142,1090 Q1143,1096 1137,1099 L1124,1101 Q1117,1097 1118,1090 Z" fill="#f7f7f7" stroke="#c2c2c2" stroke-width="1.3"/><path d="M1112,1104 L1127,1096 L1142,1102 L1141,1110 L1128,1117 L1113,1111 Z" fill="#e4e4e4" stroke="#b8b8b8" stroke-width="1.2"/><circle cx="1127" cy="1104" r="3" fill="#9a9a9a" stroke="#666" stroke-width="0.8"/>
<g fill="none" stroke="#202020"><ellipse cx="1005" cy="1161" rx="19.5" ry="21" stroke-width="4.5"/><ellipse cx="1027.5" cy="1161" rx="12.5" ry="17.5" stroke-width="4"/></g>
<path d="M1052,1180 Q1095,1192 1133,1204" stroke="#262626" stroke-width="7" stroke-linecap="round" fill="none"/><path d="M1128,1201 Q1140,1200 1139,1207 L1130,1207 Z" fill="#262626"/><path d="M1031,1135 L1050,1142 L1057,1150 L1055,1165 L1047,1183 L1028,1207 L1015,1202 L1031,1178 L1027,1154 Z" fill="#1e1e1e"/><path d="M1084,1150 Q1097,1156 1102,1170 Q1110,1184 1163,1200" stroke="#262626" stroke-width="8" stroke-linecap="round" fill="none"/><path d="M1158,1197 Q1171,1196 1169,1204 L1160,1205 Z" fill="#262626"/><path d="M1061,1132 L1087,1146 L1088,1156 L1085,1165 L1074,1184 L1056,1206 L1044,1199 L1059,1177 L1057,1148 Z" fill="#222"/><path d="M1010,1124 L1027,1143 M1040,1122 L1056,1140" stroke="#1a1a1a" stroke-width="5" fill="none"/><rect x="1007" y="1120" width="7" height="6" rx="1.5" fill="#E6E640"/><rect x="1037" y="1118" width="7" height="6" rx="1.5" fill="#E6E640"/><path d="M1021,1127 L1029,1124 L1034,1136 L1026,1140 Z M1051,1126 L1059,1123 L1065,1135 L1057,1139 Z" fill="#d9d9d9" stroke="#9a9a9a" stroke-width="1"/><circle cx="1044" cy="1178" r="3" fill="#111"/><circle cx="1073" cy="1175" r="3" fill="#111"/>
<g fill="none" stroke="#161616" stroke-width="2.4"><path d="M1127,1136 C1150,1110 1190,1100 1212,1110 C1228,1120 1222,1140 1200,1148 L1170,1163"/><path d="M1138,1149 C1160,1122 1195,1110 1216,1122 C1230,1135 1220,1158 1195,1168 L1180,1177"/><path d="M1150,1125 C1175,1108 1205,1110 1222,1128"/></g><g transform="translate(1117,1137) rotate(-25)"><rect x="-11" y="-6" width="22" height="12" rx="1.5" fill="#262626"/><rect x="-11" y="-6" width="22" height="7" rx="1.5" fill="#B5323C"/></g><g transform="translate(1128,1150) rotate(-25)"><rect x="-11" y="-6" width="22" height="12" rx="1.5" fill="#262626"/><rect x="-11" y="-6" width="22" height="7" rx="1.5" fill="#B5323C"/></g><g transform="translate(1166,1166) rotate(-35)"><rect x="-10" y="-3.8" width="20" height="7.6" rx="3" fill="#1a1a1a"/></g><g transform="translate(1176,1181) rotate(-35)"><rect x="-10" y="-3.8" width="20" height="7.6" rx="3" fill="#1a1a1a"/></g><circle cx="1157" cy="1172.5" r="4.2" fill="#E8A41C" stroke="#222" stroke-width="1"/><circle cx="1167" cy="1187.5" r="4.2" fill="#E8A41C" stroke="#222" stroke-width="1"/>
<path d="M1045,1310 Q1046,1292 1060,1287 Q1080,1280 1105,1285 Q1125,1292 1136,1310 L1139,1330 Q1138,1348 1128,1360 Q1112,1373 1094,1374 Q1078,1373 1065,1366 Q1048,1355 1045,1340 Z" fill="#171717"/><path d="M1058,1292 Q1080,1282 1106,1286 Q1124,1292 1134,1306 Q1112,1292 1085,1292 Q1070,1293 1058,1300 Z" fill="#262626"/><path d="M1052,1304 L1078,1298 L1069,1354 L1052,1347 Z" fill="#F0E21E"/><circle cx="1063" cy="1312" r="5" fill="none" stroke="#E07020" stroke-width="1"/><ellipse cx="1101.5" cy="1331" rx="20.5" ry="25" fill="#c4c4c4"/><ellipse cx="1099.5" cy="1331" rx="18" ry="23" fill="#1f1f1f"/><ellipse cx="1097" cy="1331" rx="11" ry="16" fill="#2d2d2d"/><path d="M1083,1352 L1090,1352 L1087,1366 L1080,1366 Z" fill="#bbb"/><path d="M1021.75,1368.4 L1044,1349 L1069,1360.5 L1077,1376 L1075.75,1387.5 L1054.4,1393 L1043,1386.4 Z" fill="#1c1c1c"/><path d="M1030,1370 L1070,1380 M1034,1366 L1072,1375 M1040,1361 L1072,1370" stroke="#2e2e2e" stroke-width="1.5" fill="none"/>
<path d="M1128,1354 Q1150,1352 1175,1362 Q1192,1372 1188,1386 Q1180,1395 1160,1393 Q1138,1391 1124,1378" stroke="#141414" stroke-width="3" fill="none"/><path d="M1150,1360 Q1170,1360 1184,1372 Q1190,1384 1175,1390" stroke="#141414" stroke-width="2" fill="none"/><path d="M1098,1391 L1148,1370" stroke="#141414" stroke-width="8" stroke-linecap="round"/><ellipse cx="1098" cy="1391" rx="3.5" ry="4.5" fill="#E8B41C"/>
<rect x="1056.7" y="1438" width="84" height="135.6" rx="16" fill="#F77D0E"/>
<g transform="translate(1054,1436.6) rotate(0)"><text x="0" y="0" font-size="22.5" fill="#fff" stroke="#F77D0E" stroke-width="10" stroke-linejoin="round" paint-order="stroke" textLength="84" lengthAdjust="spacingAndGlyphs">Optional</text><text x="0" y="0" font-size="22.5" fill="#fff" stroke="#fff" stroke-width="0.35" textLength="84" lengthAdjust="spacingAndGlyphs">Optional</text><rect x="7.90" y="-10.19" width="1.8" height="4.4" rx="0.9" fill="#fff"/></g>
<rect x="1064" y="1443" width="69.2" height="123.2" rx="11" fill="#2b2b2b" stroke="#1a1a1a" stroke-width="1"/><rect x="1076.3" y="1455.7" width="44.7" height="98.8" rx="1" fill="#262626"/><text x="1083" y="1463.8" font-size="6" fill="#f2f2f2" textLength="16" lengthAdjust="spacingAndGlyphs">80%</text><rect x="1103" y="1458" width="16.5" height="6.5" rx="1" fill="#f2f2f2"/><rect x="1106" y="1459" width="13" height="4.5" fill="#43c6d6"/><circle cx="1081" cy="1471" r="2.4" fill="#2fb04a"/><circle cx="1089" cy="1471" r="2.4" fill="#d8232a"/><path d="M1094,1473.5 L1097,1468 L1100,1473.5 Z" fill="#d8232a"/><rect x="1102" y="1469" width="17" height="4" fill="#d8232a" opacity="0.8"/><text x="1081.5" y="1492.4" font-size="19" fill="none" stroke="#f4f4f4" stroke-width="1.4" textLength="34.5" lengthAdjust="spacingAndGlyphs">25</text><text x="1089.6" y="1498.4" font-size="4.5" fill="#43c6d6" textLength="19" lengthAdjust="spacingAndGlyphs">KM/H</text><circle cx="1113.8" cy="1498.7" r="4.5" fill="none" stroke="#d8232a" stroke-width="1.2"/><text x="1079" y="1509.4" font-size="6.5" fill="#eeeeee" textLength="25" lengthAdjust="spacingAndGlyphs">1500 ▮</text><path d="M1079,1514.5 L1096,1514 L1101,1509.5 L1120,1509.5" stroke="#43c6d6" stroke-width="2.2" fill="none"/><rect x="1077" y="1521.5" width="43.5" height="6.5" fill="#333"/><text x="1079" y="1527.3" font-size="5" fill="#43c6d6" textLength="21" lengthAdjust="spacingAndGlyphs">TRIP A</text><text x="1078" y="1535" font-size="6.5" fill="#eeeeee" textLength="33" lengthAdjust="spacingAndGlyphs">9999.0</text><text x="1111.5" y="1535" font-size="5" fill="#43c6d6" textLength="9" lengthAdjust="spacingAndGlyphs">KM</text><g fill="#c8252b"><rect x="1077" y="1541" width="2" height="11"/><rect x="1080.5" y="1541" width="2" height="11"/><rect x="1084" y="1541" width="2" height="11"/><rect x="1087.5" y="1541" width="2" height="11"/><rect x="1108" y="1541" width="2" height="11"/><rect x="1111.5" y="1541" width="2" height="11"/><rect x="1115" y="1541" width="2" height="11"/><rect x="1118.5" y="1541" width="2" height="11"/></g><rect x="1092.3" y="1539.5" width="14" height="13.5" fill="none" stroke="#777" stroke-width="0.8"/><text x="1094.5" y="1552" font-size="15" fill="none" stroke="#f2f2f2" stroke-width="1.2" textLength="10" lengthAdjust="spacingAndGlyphs">5</text>
<text x="1229" y="270.75" font-size="34.5" fill="#1a1a1a" textLength="157" lengthAdjust="spacingAndGlyphs" text-anchor="start">Headlight</text>
<text x="1235" y="398.75" font-size="34.5" fill="#1a1a1a" textLength="127" lengthAdjust="spacingAndGlyphs" text-anchor="start">Taillight</text>
<text x="1233" y="540" font-size="34.5" fill="#1a1a1a" textLength="167" lengthAdjust="spacingAndGlyphs" text-anchor="start">Right Side</text>
<text x="1233" y="570.75" font-size="34.5" fill="#1a1a1a" textLength="186.5" lengthAdjust="spacingAndGlyphs" text-anchor="start">PAS Sensor</text>
<text x="1232.5" y="705.5" font-size="34.5" fill="#1a1a1a" textLength="120.5" lengthAdjust="spacingAndGlyphs" text-anchor="start">Battery</text>
<text x="1291" y="933" font-size="34.5" fill="#1a1a1a" textLength="69" lengthAdjust="spacingAndGlyphs" text-anchor="start">Hub</text>
<text x="1222" y="961.75" font-size="34.5" fill="#1a1a1a" textLength="207" lengthAdjust="spacingAndGlyphs" text-anchor="start">Motor wheel</text>
<text x="1237" y="1129.5" font-size="34.5" fill="#1a1a1a" textLength="232.5" lengthAdjust="spacingAndGlyphs" text-anchor="start">Brake Lever or</text>
<text x="1237" y="1158.75" font-size="34.5" fill="#1a1a1a" textLength="212" lengthAdjust="spacingAndGlyphs" text-anchor="start">Brake Sensor</text>
<text x="1239" y="1187" font-size="34.5" fill="#D0021B" textLength="87.5" lengthAdjust="spacingAndGlyphs" text-anchor="start">*Free</text>
<text x="1236" y="1348" font-size="34.5" fill="#1a1a1a" textLength="250.5" lengthAdjust="spacingAndGlyphs" text-anchor="start">Thumb Throttle</text>
<text x="1236" y="1488" font-size="34.5" fill="#1a1a1a" textLength="116" lengthAdjust="spacingAndGlyphs" text-anchor="start">Display</text>
<text x="126" y="1517.5" font-size="34.5" fill="#1a1a1a" textLength="271" lengthAdjust="spacingAndGlyphs" text-anchor="start">E-BUS 1T4 Cable</text>
</svg>
</body></html>
